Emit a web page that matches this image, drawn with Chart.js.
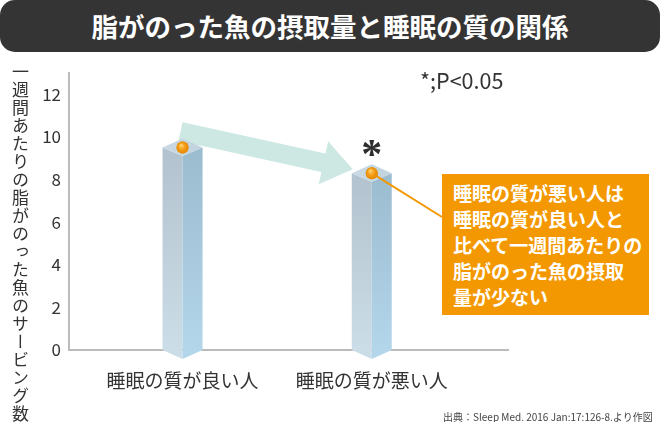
<!DOCTYPE html>
<html><head><meta charset="utf-8">
<script src="https://cdn.jsdelivr.net/npm/chart.js@4.4.1/dist/chart.umd.min.js"></script>
<style>
html,body{margin:0;padding:0;background:#fff;}
#wrap{position:relative;width:660px;height:422px;overflow:hidden;font-family:"Noto Sans CJK JP","Noto Sans",sans-serif;}
#c{position:absolute;left:0;top:0;width:660px;height:422px;}
#title{position:absolute;left:0;top:0;width:660px;height:52px;background:#343434;border-radius:15px;color:#fff;font-weight:bold;font-size:26.5px;line-height:52px;text-align:center;}
#ytitle{position:absolute;left:10px;top:63px;writing-mode:vertical-rl;font-size:17px;letter-spacing:1px;color:#333;line-height:20px;white-space:nowrap;}
#pnote{position:absolute;left:420px;top:66px;font-size:21.5px;line-height:28px;color:#333;white-space:nowrap;}
#callout{position:absolute;left:442px;top:174px;width:207px;height:141px;background:#f39800;color:#fff;font-weight:bold;font-size:19px;line-height:26px;box-sizing:border-box;padding:6px 0 0 11px;white-space:nowrap;}
#source{position:absolute;left:443px;top:410px;font-size:10px;line-height:14px;color:#444;white-space:nowrap;}
</style></head><body>
<div id="wrap">
<canvas id="c" width="660" height="422"></canvas>
<div id="title"></div>
<div id="ytitle"></div>
<div id="pnote"></div>
<div id="callout"></div>
<div id="source"></div>
</div>
<script>
const categories = ['睡眠の質が良い人', '睡眠の質が悪い人'];
const servings = [9.5, 8.3];
const sigMarks = ['', '*'];
const yTicks = [0, 2, 4, 6, 8, 10, 12];
const titleText = '脂がのった魚の摂取量と睡眠の質の関係';
const yAxisTitle = '一週間あたりの脂がのった魚のサービング数';
const pNote = '*;P<0.05';
const calloutLines = ['睡眠の質が悪い人は', '睡眠の質が良い人と', '比べて一週間あたりの', '脂がのった魚の摂取', '量が少ない'];
const sourceText = '出典：Sleep Med. 2016 Jan:17:126-8.より作図';

document.getElementById('title').textContent = titleText;
document.getElementById('ytitle').textContent = yAxisTitle;
document.getElementById('pnote').textContent = pNote;
document.getElementById('source').textContent = sourceText;
const co = document.getElementById('callout');
calloutLines.forEach((l, i) => { if (i) co.appendChild(document.createElement('br')); co.appendChild(document.createTextNode(l)); });

const FONT = "'Noto Sans CJK JP', 'Noto Sans', sans-serif";
Chart.defaults.font.family = FONT;

const deco = {
  id: 'deco',
  beforeDatasetsDraw(chart) {
    const bars = chart.getDatasetMeta(0).data;
    if (bars.length < 2) return;
    const a = bars[0], b = bars[1];
    const S = {x: a.x - 2, y: a.y - 16}, E = {x: b.x - 19, y: b.y - 4};
    const dx = E.x - S.x, dy = E.y - S.y, L = Math.hypot(dx, dy);
    const u = {x: dx / L, y: dy / L}, n = {x: -u.y, y: u.x};
    const hl = 30, hw = 22, sw = 9.5;
    const HB = {x: E.x - u.x * hl, y: E.y - u.y * hl};
    const pts = [
      [S.x - n.x * sw, S.y - n.y * sw],
      [HB.x - n.x * sw, HB.y - n.y * sw],
      [HB.x - n.x * hw, HB.y - n.y * hw],
      [E.x, E.y],
      [HB.x + n.x * hw, HB.y + n.y * hw],
      [HB.x + n.x * sw, HB.y + n.y * sw],
      [S.x + n.x * sw, S.y + n.y * sw]
    ];
    const ctx = chart.ctx;
    ctx.save();
    ctx.fillStyle = '#cde7e3';
    ctx.beginPath();
    pts.forEach((p, i) => i ? ctx.lineTo(p[0], p[1]) : ctx.moveTo(p[0], p[1]));
    ctx.closePath();
    ctx.fill();
    ctx.restore();
  },
  afterDatasetDraw(chart, args) {
    if (args.index !== 0) return;
    const ctx = chart.ctx;
    const bars = args.meta.data;
    ctx.save();
    bars.forEach((bar) => {
      const x = bar.x, y = bar.y, base = bar.base, w = bar.width / 2, d = 8.5;
      let g = ctx.createLinearGradient(0, y, 0, base);
      g.addColorStop(0, '#b2c2ce'); g.addColorStop(1, '#cbdde7');
      ctx.fillStyle = g;
      ctx.beginPath();
      ctx.moveTo(x - w, y); ctx.lineTo(x, y + d); ctx.lineTo(x, base + 9); ctx.lineTo(x - w, base);
      ctx.closePath(); ctx.fill();
      g = ctx.createLinearGradient(0, y, 0, base);
      g.addColorStop(0, '#9bbbcf'); g.addColorStop(1, '#b4d6ea');
      ctx.fillStyle = g;
      ctx.beginPath();
      ctx.moveTo(x, y + d); ctx.lineTo(x + w, y); ctx.lineTo(x + w, base); ctx.lineTo(x, base + 9);
      ctx.closePath(); ctx.fill();
      g = ctx.createLinearGradient(x - w, 0, x + w, 0);
      g.addColorStop(0, '#cbdae4'); g.addColorStop(1, '#c1d3de');
      ctx.fillStyle = g;
      ctx.beginPath();
      ctx.moveTo(x, y - 9); ctx.lineTo(x + w, y); ctx.lineTo(x, y + d); ctx.lineTo(x - w, y);
      ctx.closePath(); ctx.fill();
    });
    // leader line to callout
    const b = bars[1];
    ctx.strokeStyle = '#f39800';
    ctx.lineWidth = 2;
    ctx.beginPath(); ctx.moveTo(b.x, b.y); ctx.lineTo(442, 217); ctx.stroke();
    // significance marks
    ctx.fillStyle = '#2e2e2e';
    ctx.font = "bold 42px 'Liberation Serif', serif";
    ctx.textAlign = 'center';
    ctx.textBaseline = 'alphabetic';
    bars.forEach((bar, i) => {
      const m = sigMarks[i];
      if (!m) return;
      const mt = ctx.measureText(m);
      const cy = bar.y - 25.5;
      ctx.fillText(m, bar.x, cy + (mt.actualBoundingBoxAscent - mt.actualBoundingBoxDescent) / 2);
    });
    ctx.restore();
  },
  afterDatasetsDraw(chart) {
    const ctx = chart.ctx;
    const pts = chart.getDatasetMeta(1).data;
    ctx.save();
    pts.forEach((p) => {
      const r = 6;
      const g = ctx.createRadialGradient(p.x - 1.5, p.y - 2.5, 0.5, p.x, p.y, r);
      g.addColorStop(0, '#ffd27a');
      g.addColorStop(0.45, '#f7a21c');
      g.addColorStop(1, '#e58700');
      ctx.fillStyle = g;
      ctx.beginPath(); ctx.arc(p.x, p.y, r, 0, Math.PI * 2); ctx.fill();
    });
    ctx.restore();
  }
};

const pointsData = servings.map((v, i) => ({x: i, y: v}));

new Chart(document.getElementById('c'), {
  type: 'bar',
  data: {
    datasets: [
      {type: 'bar', data: pointsData, backgroundColor: 'rgba(0,0,0,0)', borderWidth: 0, barThickness: 40, order: 2},
      {type: 'line', data: pointsData, showLine: false, pointRadius: 6, pointBackgroundColor: '#f39800', pointBorderWidth: 0, order: 1}
    ]
  },
  options: {
    responsive: false,
    animation: false,
    events: [],
    layout: {padding: {top: 73, right: 152, left: 0, bottom: 0}},
    plugins: {legend: {display: false}, tooltip: {enabled: false}},
    scales: {
      x: {
        type: 'linear', min: -0.6, max: 1.72, offset: false,
        grid: {display: false, drawTicks: false, tickLength: 0, offset: false},
        border: {display: true, color: '#bbbbbb', width: 2},
        afterBuildTicks: (s) => { s.ticks = categories.map((c, i) => ({value: i})); },
        afterFit: (s) => { s.height = 72; },
        ticks: {
          autoSkip: false, maxRotation: 0, padding: 19,
          color: '#333', font: {size: 19},
          callback: (v, i) => categories[i]
        }
      },
      y: {
        min: 0, max: 13,
        grid: {display: false, drawTicks: false, tickLength: 0},
        border: {display: true, color: '#bbbbbb', width: 2},
        afterBuildTicks: (s) => { s.ticks = yTicks.map(v => ({value: v})); },
        afterFit: (s) => { s.width = 69; },
        ticks: {padding: 8, color: '#333', font: {size: 17}}
      }
    }
  },
  plugins: [deco]
});
</script>
</body></html>
